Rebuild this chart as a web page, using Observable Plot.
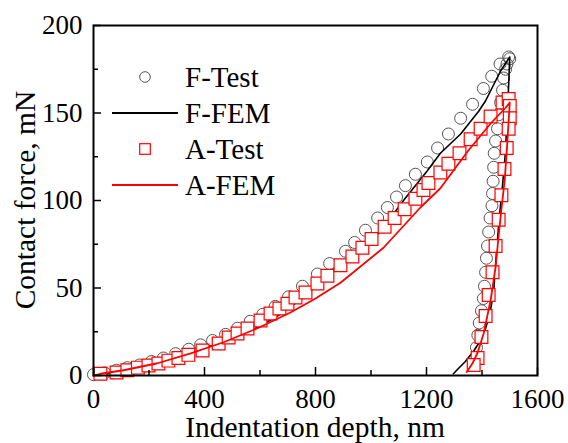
<!DOCTYPE html>
<html>
<head>
<meta charset="utf-8">
<script src="https://cdn.jsdelivr.net/npm/d3@7"></script>
<script src="https://cdn.jsdelivr.net/npm/@observablehq/plot@0.6"></script>
<style>
  html, body { margin: 0; padding: 0; background: white; }
  #chart { position: relative; width: 568px; height: 443px; }
  #chart g[aria-label$="tick label"] text { font-size: 27px !important; font-family: 'Liberation Serif', 'Times New Roman', serif !important; }
</style>
</head>
<body>
<div id="chart"></div>
<script>
// F-Test (circles): loading then unloading
const fTestX = [0,40,83,122,166,209,252,296,343,386,429,476,519,565,610,655,703,753,807,851,908,941,980,1024,1059,1092,1124,1160,1203,1240,1279,1323,1366,1405,1435,1465,1496,
  1500,1490,1485,1478,1474,1467,1460,1456,1449,1444,1442,1440,1438,1436,1429,1424,1420,1416,1413,1409,1405,1398,1390,1385,1380];
const fTestY = [0.5,1.5,3,4.5,6,8,10,12.5,15,17.5,20,23.5,27,31,35,39.5,45,51,58,64,71,76,83,90,96,102,108.5,115,122,130,138,147,155,164,171,178,182,
  181,178,175,170,163,156,149,141,134,127,119,111,104,97,90,82,74,67,59,51,44,37,30,23,16];

// F-FEM (black line)
const fFemX = [0,100,200,300,400,500,591,663,760,861,950,1034,1117,1203,1250,1323,1388,1413,1467,1500,
  1492,1483,1472,1462,1452,1442,1428,1413,1395,1370,1340,1315,1297];
const fFemY = [0,2,5.5,10,15.5,21.5,27.5,34,45,60,71,82,100,117,127,138,151,157,174,182,
  150,125,105,90,70,48,35,27,20,14,8,4,1];

// A-Test (squares)
const aTestX = [25,83,122,160,198,234,270,306,342,393,451,487,519,555,602,638,670,699,728,764,807,843,890,933,969,1002,1049,1085,1121,1160,1189,1207,1250,1279,1319,1359,1395,1431,1474,1496,
  1500,1500,1496,1489,1481,1470,1460,1449,1438,1424,1413,1398,1384,1370];
const aTestY = [1,1.7,3,4.5,5.7,6.9,8.5,10,11.8,14.3,18.3,21.7,24,26.9,31.4,35.4,38.3,41,44.6,47.4,52.6,57,63,68,73,78,85,90,95,101,106,110,116,121,127,135,141,148,156,158,
  154,147,141,130,118,103,89,74,59,46,34,22,10,6];

// A-FEM (red line)
const aFemX = [0,25,108,231,350,469,591,710,800,890,1045,1178,1250,1348,1431,1485,1500,
  1492,1482,1470,1460,1449,1431,1406,1384,1366,1345];
const aFemY = [0,1,3,7,12.6,19,27,36,44,53,73,96,107,128,144,153,156,
  135,112,95,80,62,43,24,13,7,2];

const xTicks = [0,400,800,1200,1600];
const xMinor = [200,600,1000,1400];
const yTicks = [0,50,100,150,200];
const yMinor = [25,75,125,175];
const legendLabels = ["F-Test","F-FEM","A-Test","A-FEM"];
const xTitle = "Indentation depth, nm";
const yTitle = "Contact force, mN";

const zip = (xs, ys) => xs.map((x, i) => ({x, y: ys[i]}));
const fTest = zip(fTestX, fTestY);
const fFem = zip(fFemX, fFemY);
const aTest = zip(aTestX, aTestY);
const aFem = zip(aFemX, aFemY);

const font = "'Liberation Serif', 'Times New Roman', serif";

const plot = Plot.plot({
  width: 568,
  height: 443,
  marginLeft: 93,
  marginRight: 31,
  marginTop: 25,
  marginBottom: 68,
  x: {domain: [0, 1600]},
  y: {domain: [0, 200]},
  style: {fontFamily: font, fontSize: "27px", color: "black", background: "white"},
  marks: [
    Plot.dot(fTest, {x: "x", y: "y", r: 6, stroke: "#555", strokeWidth: 1, fill: "none"}),
    Plot.line(fFem, {x: "x", y: "y", stroke: "black", strokeWidth: 1.6}),
    Plot.dot(aTest, {x: "x", y: "y", symbol: "square", r: 7.2, stroke: "red", fill: "white", strokeWidth: 1.2}),
    Plot.line(aFem, {x: "x", y: "y", stroke: "red", strokeWidth: 1.8}),
    Plot.frame({stroke: "black", strokeWidth: 2}),
    Plot.axisX({ticks: xTicks, tickSize: -8, tickPadding: 21, strokeWidth: 1.5, label: null, tickFormat: d => String(d)}),
    Plot.axisX({ticks: xMinor, tickSize: -5, tickFormat: () => "", strokeWidth: 1.5, label: null}),
    Plot.axisY({ticks: yTicks, tickSize: -8, tickPadding: 19, strokeWidth: 1.5, label: null, tickFormat: d => String(d)}),
    Plot.axisY({ticks: yMinor, tickSize: -5, tickFormat: () => "", strokeWidth: 1.5, label: null})
  ]
});

document.getElementById("chart").appendChild(plot);

const svg = d3.select(plot);

// Axis titles
svg.append("text")
  .attr("x", 315).attr("y", 437)
  .attr("text-anchor", "middle").attr("font-family", font).attr("font-size", 29.5).attr("fill", "black")
  .text(xTitle);
svg.append("text")
  .attr("transform", "translate(35,200) rotate(-90)")
  .attr("text-anchor", "middle").attr("font-family", font).attr("font-size", 29.5).attr("fill", "black")
  .text(yTitle);

// Legend
const lg = svg.append("g").attr("font-family", font).attr("font-size", 29);
const rowY0 = 77, rowStep = 36, symX = 145, lineX1 = 112, lineX2 = 178, textX = 185;
legendLabels.forEach((lab, i) => {
  const y = rowY0 + i * rowStep;
  if (i === 0) lg.append("circle").attr("cx", symX).attr("cy", y).attr("r", 5.3).attr("fill", "none").attr("stroke", "#555").attr("stroke-width", 1);
  if (i === 1) lg.append("line").attr("x1", lineX1).attr("x2", lineX2).attr("y1", y).attr("y2", y).attr("stroke", "black").attr("stroke-width", 1.8);
  if (i === 2) lg.append("rect").attr("x", symX - 5.3).attr("y", y - 5.3).attr("width", 10.6).attr("height", 10.6).attr("fill", "white").attr("stroke", "red").attr("stroke-width", 1.2);
  if (i === 3) lg.append("line").attr("x1", lineX1).attr("x2", lineX2).attr("y1", y).attr("y2", y).attr("stroke", "red").attr("stroke-width", 1.8);
  lg.append("text").attr("x", textX).attr("y", y).attr("dy", "0.35em").attr("text-anchor", "start").attr("fill", "black").text(lab);
});
</script>
</body>
</html>
